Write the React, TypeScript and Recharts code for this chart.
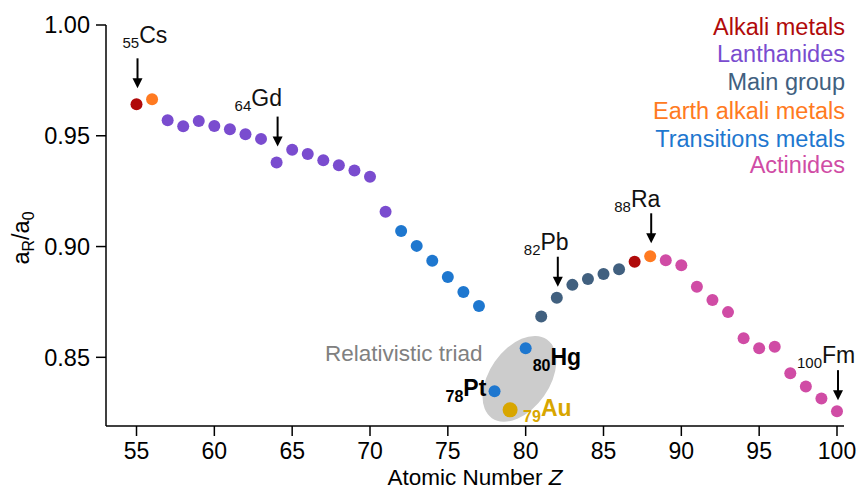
import { ScatterChart, Scatter, XAxis, YAxis, ReferenceDot, Customized } from "recharts"

const atomicNumbers = [
  55, 56, 57, 58, 59, 60, 61, 62, 63, 64, 65, 66, 67, 68, 69, 70, 71, 72, 73, 74, 75, 76, 77,
  78, 79, 80, 81, 82, 83, 84, 85, 86, 87, 88, 89, 90, 91, 92, 93, 94, 95, 96, 97, 98, 99, 100,
]

const radiusRatios = [
  0.9642, 0.9665, 0.957, 0.9543, 0.9567, 0.9544, 0.9529, 0.9507, 0.9486, 0.9379, 0.9437, 0.9418,
  0.9389, 0.9367, 0.9343, 0.9315, 0.9157, 0.907, 0.9003, 0.8936, 0.8863, 0.8795, 0.8732, 0.8347,
  0.8263, 0.8541, 0.8684, 0.8769, 0.8827, 0.8854, 0.8876, 0.8898, 0.8931, 0.8956, 0.8938, 0.8916,
  0.8819, 0.8759, 0.8704, 0.8586, 0.8541, 0.8548, 0.8428, 0.8368, 0.8314, 0.8257,
]

const elementGroups = [
  "alkali", "earth",
  "lan", "lan", "lan", "lan", "lan", "lan", "lan", "lan", "lan", "lan", "lan", "lan", "lan", "lan", "lan",
  "tm", "tm", "tm", "tm", "tm", "tm", "tm", "gold", "tm",
  "main", "main", "main", "main", "main", "main",
  "alkali", "earth",
  "act", "act", "act", "act", "act", "act", "act", "act", "act", "act", "act", "act",
]

const groupKeys = ["alkali", "lan", "main", "earth", "tm", "act", "gold"]
const legendLabels = [
  "Alkali metals",
  "Lanthanides",
  "Main group",
  "Earth alkali metals",
  "Transitions metals",
  "Actinides",
]

const xTicks = [55, 60, 65, 70, 75, 80, 85, 90, 95, 100]
const yTicks = [0.85, 0.9, 0.95, 1.0]

const arrowElements = [
  { z: 55, symbol: "Cs" },
  { z: 64, symbol: "Gd" },
  { z: 82, symbol: "Pb" },
  { z: 88, symbol: "Ra" },
  { z: 100, symbol: "Fm" },
]

const triadElements = [
  { z: 78, symbol: "Pt" },
  { z: 79, symbol: "Au" },
  { z: 80, symbol: "Hg" },
]

const colors: Record<string, string> = {
  alkali: "#b00a0a",
  lan: "#7a4ccf",
  main: "#41607f",
  earth: "#ff7a21",
  tm: "#1e77cf",
  act: "#d04ca5",
  gold: "#d8a600",
}

// label offsets (px) relative to the dot: text start, arrow gap, text gap above arrow
const arrowLayout: Record<string, { dx: number; gap: number; textGap: number }> = {
  Cs: { dx: -14, gap: 16, textGap: 45 },
  Gd: { dx: -42, gap: 16, textGap: 41 },
  Pb: { dx: -33, gap: 11, textGap: 37 },
  Ra: { dx: -36, gap: 13, textGap: 36 },
  Fm: { dx: -40, gap: 11, textGap: 37 },
}

const triadLayout: Record<string, { dx: number; dy: number }> = {
  Pt: { dx: -49, dy: 5 },
  Au: { dx: 13, dy: 6 },
  Hg: { dx: 7, dy: 17 },
}

const FONT = "'Liberation Sans', Arial, sans-serif"

const points = atomicNumbers.map((z, i) => ({ z, ratio: radiusRatios[i], group: elementGroups[i] }))
const ratioOf = (z: number) => radiusRatios[atomicNumbers.indexOf(z)]

function Legend() {
  const baselines = [35, 62, 90, 119, 147, 173]
  return (
    <g fontFamily={FONT} fontSize={23.5} textAnchor="end">
      {legendLabels.map((label, i) => (
        <text key={label} x={845} y={baselines[i]} fill={colors[groupKeys[i]]}>
          {label}
        </text>
      ))}
    </g>
  )
}

export default function App() {
  return (
    <div style={{ position: "absolute", left: 0, top: 0 }}>
      <ScatterChart width={857} height={490} margin={{ top: 25, right: 13, bottom: 0, left: 0 }}>
        <XAxis
          type="number"
          dataKey="z"
          domain={[53.04, 100.45]}
          ticks={xTicks}
          allowDataOverflow
          height={64}
          stroke="#000"
          strokeWidth={1.5}
          tickSize={10}
          tickMargin={7}
          tick={{ fill: "#000", fontSize: 23, fontFamily: FONT }}
          label={{
            content: ({ viewBox }: any) => (
              <text x={viewBox.x + viewBox.width / 2} y={viewBox.y + 59} textAnchor="middle" fontSize={22.5} fontFamily={FONT} fill="#000">
                Atomic Number <tspan fontStyle="italic">Z</tspan>
              </text>
            ),
          }}
        />
        <YAxis
          type="number"
          dataKey="ratio"
          domain={[0.819, 1.0]}
          ticks={yTicks}
          allowDataOverflow
          width={106}
          stroke="#000"
          strokeWidth={1.5}
          tickSize={10}
          tickMargin={6}
          tickFormatter={(v: number) => v.toFixed(2)}
          tick={{ fill: "#000", fontSize: 23.5, fontFamily: FONT }}
          label={{
            content: () => (
              <text transform="translate(29 238) rotate(-90)" textAnchor="middle" fontSize={23.5} fontFamily={FONT} fill="#000">
                <tspan>a</tspan>
                <tspan fontSize={16} dy={5}>R</tspan>
                <tspan dy={-5}>/a</tspan>
                <tspan fontSize={16} dy={5}>0</tspan>
              </text>
            ),
          }}
        />
        <ReferenceDot
          x={79.6}
          y={0.8403}
          ifOverflow="visible"
          shape={(p: any) => (
            <g>
              <ellipse cx={p.cx} cy={p.cy} rx={48} ry={30} fill="#cccccc" transform={`rotate(-55 ${p.cx} ${p.cy})`} />
              <text x={p.cx - 37} y={p.cy - 18} textAnchor="end" fontSize={22.5} fontFamily={FONT} fill="#808080">
                Relativistic triad
              </text>
            </g>
          )}
        />
        {groupKeys.map((g) => (
          <Scatter
            key={g}
            data={points.filter((p) => p.group === g)}
            isAnimationActive={false}
            shape={(p: any) => <circle cx={p.cx} cy={p.cy} r={g === "gold" ? 7.5 : 6} fill={colors[g]} />}
          />
        ))}
        {arrowElements.map((el) => {
          const lay = arrowLayout[el.symbol]
          return (
            <ReferenceDot
              key={el.symbol}
              x={el.z}
              y={ratioOf(el.z)}
              ifOverflow="visible"
              shape={(p: any) => {
                const tip = p.cy - lay.gap
                const x = p.cx + 1
                return (
                  <g>
                    <line x1={x} y1={tip - 30} x2={x} y2={tip - 8} stroke="#000" strokeWidth={2} />
                    <polygon points={`${x - 5},${tip - 10} ${x + 5},${tip - 10} ${x},${tip}`} fill="#000" />
                    <text x={p.cx + lay.dx} y={tip - lay.textGap} fontFamily={FONT} fill="#111">
                      <tspan fontSize={15} dy={5}>{el.z}</tspan>
                      <tspan fontSize={23} dy={-5}>{el.symbol}</tspan>
                    </text>
                  </g>
                )
              }}
            />
          )
        })}
        {triadElements.map((el) => {
          const lay = triadLayout[el.symbol]
          const fill = el.symbol === "Au" ? colors.gold : "#000"
          return (
            <ReferenceDot
              key={el.symbol}
              x={el.z}
              y={ratioOf(el.z)}
              ifOverflow="visible"
              shape={(p: any) => (
                <text x={p.cx + lay.dx} y={p.cy + lay.dy} fontFamily={FONT} fontWeight="bold" fill={fill}>
                  <tspan fontSize={16} dy={6}>{el.z}</tspan>
                  <tspan fontSize={23} dy={-6}>{el.symbol}</tspan>
                </text>
              )}
            />
          )
        })}
        <Customized component={<Legend />} />
      </ScatterChart>
    </div>
  )
}
